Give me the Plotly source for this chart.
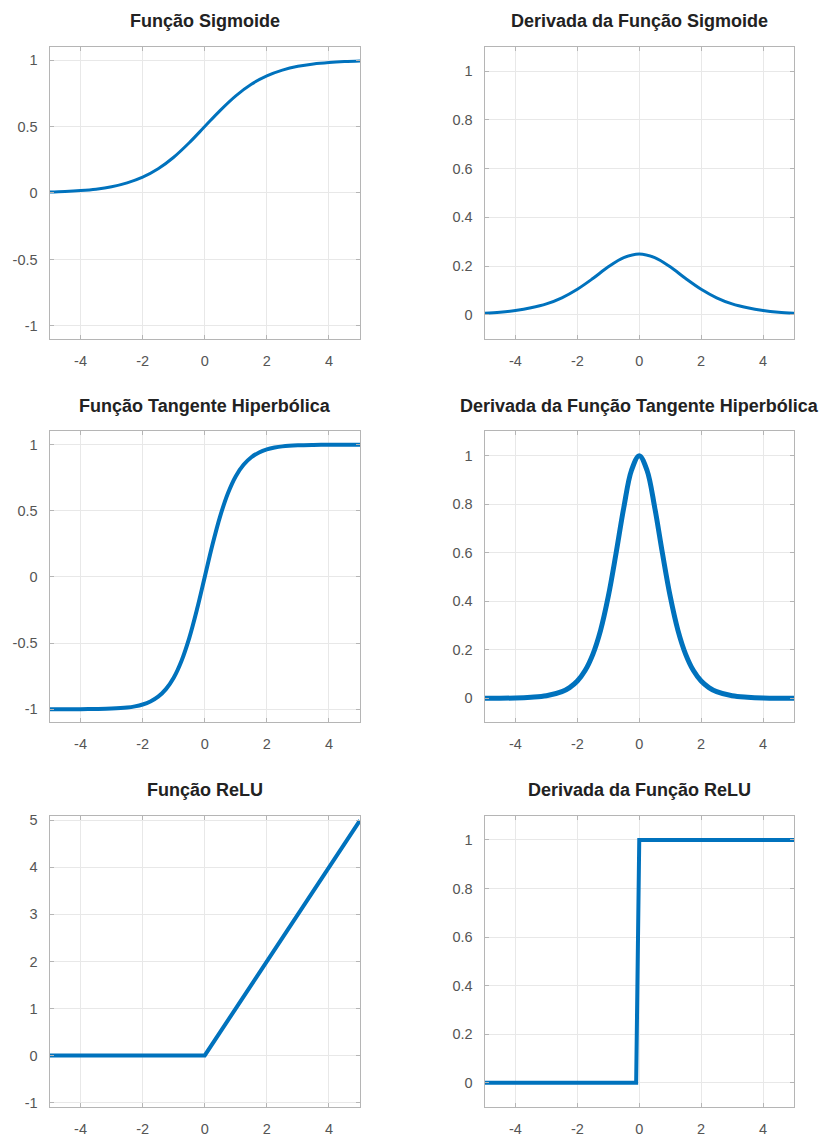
import plotly.graph_objects as go
from plotly.subplots import make_subplots

# ---------------- data ----------------
x_sig = [-5, -4.5, -4, -3.5, -3, -2.5, -2, -1.5, -1, -0.5, 0,
         0.5, 1, 1.5, 2, 2.5, 3, 3.5, 4, 4.5, 5]
y_sig = [0.007, 0.011, 0.018, 0.029, 0.047, 0.076, 0.119, 0.182, 0.269, 0.378, 0.500,
         0.622, 0.731, 0.818, 0.881, 0.924, 0.953, 0.971, 0.982, 0.989, 0.993]
y_dsig = [0.007, 0.011, 0.018, 0.029, 0.045, 0.070, 0.105, 0.149, 0.197, 0.235, 0.250,
          0.235, 0.197, 0.149, 0.105, 0.070, 0.045, 0.029, 0.018, 0.011, 0.007]

x_tanh = [-5, -4.5, -4, -3.5, -3, -2.5, -2.25, -2, -1.75, -1.5, -1.25, -1, -0.75, -0.5, -0.25, 0,
          0.25, 0.5, 0.75, 1, 1.25, 1.5, 1.75, 2, 2.25, 2.5, 3, 3.5, 4, 4.5, 5]
y_tanh = [-1.000, -1.000, -0.999, -0.998, -0.995, -0.987, -0.978, -0.964, -0.941, -0.905, -0.848,
          -0.762, -0.635, -0.462, -0.245, 0.000,
          0.245, 0.462, 0.635, 0.762, 0.848, 0.905, 0.941, 0.964, 0.978, 0.987, 0.995, 0.998,
          0.999, 1.000, 1.000]
y_dtanh = [0.000, 0.000, 0.001, 0.004, 0.010, 0.027, 0.044, 0.071, 0.114, 0.181, 0.280,
           0.420, 0.597, 0.786, 0.940, 1.000,
           0.940, 0.786, 0.597, 0.420, 0.280, 0.181, 0.114, 0.071, 0.044, 0.027, 0.010, 0.004,
           0.001, 0.000, 0.000]

x_relu = [-5, 0, 5]
y_relu = [0, 0, 5]
x_drelu = [-5, -0.1, 0, 5]
y_drelu = [0, 0, 1, 1]

titles = ["Função Sigmoide", "Derivada da Função Sigmoide",
          "Função Tangente Hiperbólica", "Derivada da Função Tangente Hiperbólica",
          "Função ReLU", "Derivada da Função ReLU"]

x_ticks = [-4, -2, 0, 2, 4]
x_ticklabels = ["-4", "-2", "0", "2", "4"]
y_ticks_pm1 = [-1, -0.5, 0, 0.5, 1]
y_ticklabels_pm1 = ["-1", "-0.5", "0", "0.5", "1"]
y_ticks_01 = [0, 0.2, 0.4, 0.6, 0.8, 1]
y_ticklabels_01 = ["0", "0.2", "0.4", "0.6", "0.8", "1"]
y_ticks_relu = [-1, 0, 1, 2, 3, 4, 5]
y_ticklabels_relu = ["-1", "0", "1", "2", "3", "4", "5"]

# ---------------- figure ----------------
W, H = 825, 1138
BLUE = "#0072BD"
FONT = "Liberation Sans, Arial, Helvetica, sans-serif"

fig = make_subplots(rows=3, cols=2)

series = [
    (x_sig, y_sig, 1, 1, 3, "spline"),
    (x_sig, y_dsig, 1, 2, 3, "spline"),
    (x_tanh, y_tanh, 2, 1, 4, "spline"),
    (x_tanh, y_dtanh, 2, 2, 5, "spline"),
    (x_relu, y_relu, 3, 1, 4, "linear"),
    (x_drelu, y_drelu, 3, 2, 4, "linear"),
]
for xs, ys, r, c, w, shape in series:
    fig.add_trace(go.Scatter(x=xs, y=ys, mode="lines",
                             line=dict(color=BLUE, width=w, shape=shape),
                             showlegend=False), row=r, col=c)

# domains in pixel terms
col_px = [(49.5, 360.0), (484.5, 794.0)]
row_px = [(44.0, 338.0), (430.7, 723.3), (817.0, 1110.0)]
yranges = [[-1.1, 1.1], [-0.1, 1.1], [-1.1, 1.1], [-0.1, 1.1], [-1.1, 5.1], [-0.1, 1.1]]
yticks = [(y_ticks_pm1, y_ticklabels_pm1), (y_ticks_01, y_ticklabels_01),
          (y_ticks_pm1, y_ticklabels_pm1), (y_ticks_01, y_ticklabels_01),
          (y_ticks_relu, y_ticklabels_relu), (y_ticks_01, y_ticklabels_01)]

axis_common = dict(showgrid=True, gridcolor="#e8e8e8", gridwidth=1,
                   showline=True, linecolor="#b5b5b5", linewidth=1, mirror="ticks",
                   ticks="inside", ticklen=4, tickcolor="#b5b5b5",
                   tickfont=dict(family=FONT, size=14.5, color="#555555"),
                   zeroline=False)

annotations = []
k = 0
for r in range(3):
    for c in range(2):
        k += 1
        x0, x1 = col_px[c]
        t, b = row_px[r]
        xa = "xaxis" if k == 1 else f"xaxis{k}"
        ya = "yaxis" if k == 1 else f"yaxis{k}"
        fig.layout[xa].update(domain=[x0 / W, x1 / W], range=[-5, 5],
                              tickvals=x_ticks, ticktext=x_ticklabels,
                              ticklabelstandoff=8, **axis_common)
        tv, tt = yticks[k - 1]
        fig.layout[ya].update(domain=[1 - b / H, 1 - t / H], range=yranges[k - 1],
                              tickvals=tv, ticktext=tt,
                              ticklabelstandoff=8, **axis_common)
        annotations.append(dict(text=f"<b>{titles[k - 1]}</b>", xref="paper", yref="paper",
                                x=(x0 + x1) / 2 / W, y=1 - (t - 26) / H,
                                xanchor="center", yanchor="middle", showarrow=False,
                                font=dict(family=FONT, size=18, color="#222222")))

fig.update_layout(width=W, height=H, margin=dict(l=0, r=0, t=0, b=0),
                  paper_bgcolor="white", plot_bgcolor="white",
                  annotations=annotations, showlegend=False)

fig.write_html("out.html")
